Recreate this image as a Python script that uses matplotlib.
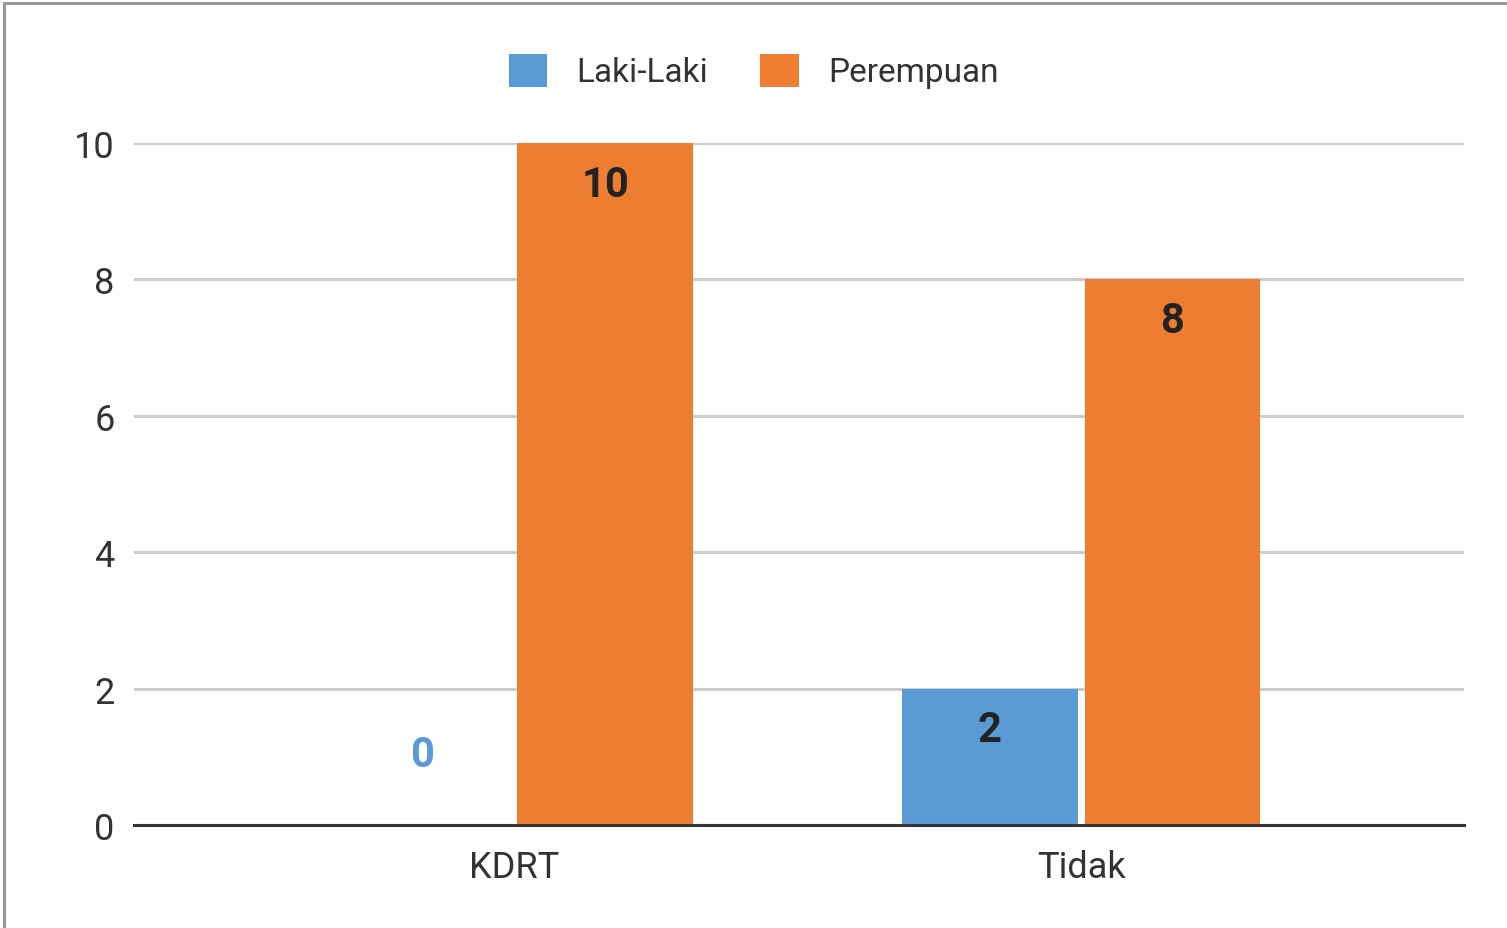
import matplotlib
matplotlib.use("Agg")
import matplotlib.pyplot as plt
from matplotlib.patches import Patch
from matplotlib.lines import Line2D

plt.rcParams['font.family'] = ['Roboto', 'DejaVu Sans']

# data
categories = ['KDRT', 'Tidak']
series_names = ['Laki-Laki', 'Perempuan']
laki_laki = [0, 2]
perempuan = [10, 8]
series_colors = ['#5B9BD5', '#ED7D31']
y_ticks = [0, 2, 4, 6, 8, 10]

fig = plt.figure(figsize=(15.07, 9.29), dpi=100)
ax = fig.add_axes([134 / 1507, 1 - 826 / 929, (1464 - 134) / 1507, (826 - 144) / 929])

x = list(range(len(categories)))
width = 0.31
offset = 0.161

for vals, off, color in [(laki_laki, -offset, series_colors[0]),
                         (perempuan, offset, series_colors[1])]:
    xs = [xi + off for xi in x]
    ax.bar(xs, vals, width=width, color=color, zorder=3)
    for xv, v in zip(xs, vals):
        if v == 0:
            # zero value: label floats above the axis in series colour
            ax.annotate(str(v), (xv, v), xytext=(0, 51), textcoords='offset points',
                        ha='center', va='center', fontsize=30, fontweight='bold',
                        color=color, zorder=4)
        else:
            ax.annotate(str(v), (xv, v), xytext=(0, -15), textcoords='offset points',
                        ha='center', va='top', fontsize=30, fontweight='bold',
                        color='#222222', zorder=4)

ax.set_xlim(-0.670, 1.675)
ax.set_ylim(0, 10)
ax.set_yticks(y_ticks)
ax.set_xticks(x)
ax.set_xticklabels(categories)
ax.tick_params(axis='both', length=0, labelsize=26, labelcolor='#333333')
ax.tick_params(axis='y', pad=14)
ax.tick_params(axis='x', pad=17)
ax.grid(axis='y', color='#cccccc', linewidth=2.2, zorder=0)
ax.set_axisbelow(True)
for side in ['top', 'right', 'left']:
    ax.spines[side].set_visible(False)
ax.spines['bottom'].set_color('#333333')
ax.spines['bottom'].set_linewidth(2.2)
ax.spines['bottom'].set_zorder(5)

handles = [Patch(facecolor=c, edgecolor='none') for c in series_colors]
fig.legend(handles, series_names, loc='center', bbox_to_anchor=(0.5, 1 - 72 / 929),
           ncol=2, frameon=False, fontsize=24, handlelength=1.15, handleheight=1.15,
           handletextpad=0.88, columnspacing=1.57, labelcolor='#333333')

# outer frame of the screenshot (top and left edges)
fig.add_artist(Line2D([4 / 1507, 1], [1 - 4 / 929, 1 - 4 / 929], color='#999999',
                      linewidth=2.2, transform=fig.transFigure))
fig.add_artist(Line2D([4 / 1507, 4 / 1507], [0, 1 - 4 / 929], color='#999999',
                      linewidth=2.2, transform=fig.transFigure))

fig.savefig('out.png', dpi=100)
